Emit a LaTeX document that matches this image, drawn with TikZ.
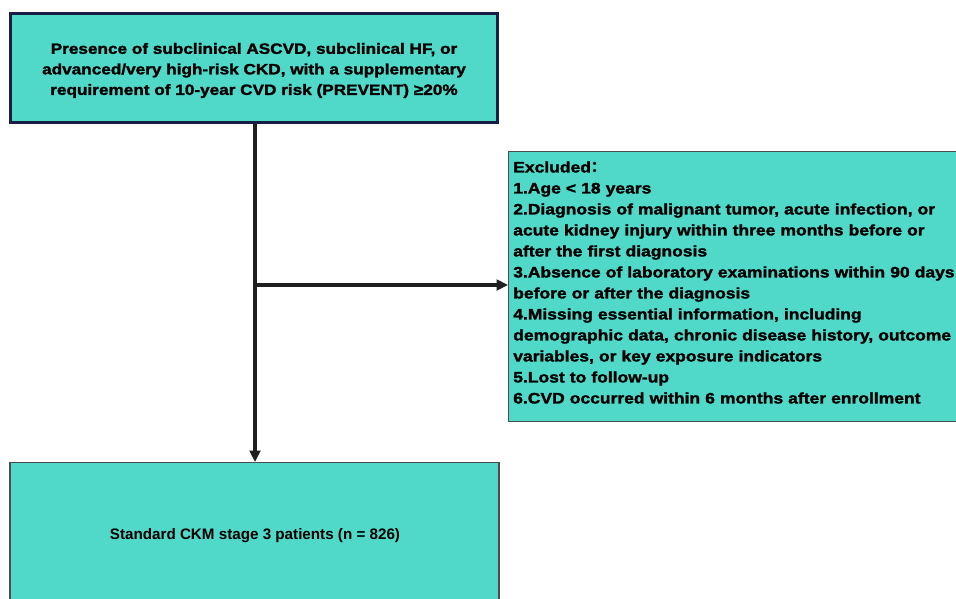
\documentclass[tikz,border=0pt]{standalone}
\usepackage{fontspec}
\setmainfont{Liberation Sans}
\newfontfamily\heavy[FakeStretch=1.15,FakeBold=1.6]{Liberation Sans Bold}
\newfontfamily\cjk{Noto Sans CJK SC}
\usepackage{xcolor}
\usetikzlibrary{arrows.meta}

\definecolor{boxfill}{RGB}{80,216,200}
\definecolor{navyline}{RGB}{24,30,72}

\begin{document}
\begin{tikzpicture}[x=0.75pt,y=0.75pt,font=\bfseries,
  box/.style={draw=black!70,line width=0.8pt,fill=boxfill,inner sep=0pt},
  flow/.style={line width=2.3pt,black!88,-{Triangle[length=8.5pt,width=8pt]}}]
  \useasboundingbox (0,0) rectangle (956,-599);
  \clip (0,0) rectangle (956,-599);
  % boxes
  \node[box,draw=navyline,line width=2.2pt,minimum width=487pt*0.75,minimum height=109pt*0.75] (elig) at (254,-68) {};
  \node[box,anchor=north west,minimum width=470pt*0.75,minimum height=270pt*0.75] (excl) at (508,-151) {};
  \node[box,anchor=north,minimum width=489pt*0.75,minimum height=150pt*0.75] (final) at (254.5,-462) {};
  % texts
  \node[align=center,inner sep=0pt,font=\heavy\fontsize{11.2}{15.4}\selectfont] (eligtxt) at (254,-70.5)
    {Presence of subclinical ASCVD, subclinical HF, or\\
     advanced/very high-risk CKD, with a supplementary\\
     requirement of 10-year CVD risk (PREVENT) ≥20\%};
  \node[anchor=west,inner sep=0pt,text width=460pt*0.75,align=left,
        font=\heavy\fontsize{11.4}{15.75}\selectfont] (excltxt) at ([xshift=5*0.75pt,yshift=4*0.75pt]excl.west)
    {Excluded{\cjk\bfseries ：}\\
     1.Age < 18 years\\
     2.Diagnosis of malignant tumor, acute infection, or\\
     acute kidney injury within three months before or\\
     after the first diagnosis\\
     3.Absence of laboratory examinations within 90 days\\
     before or after the diagnosis\\
     4.Missing essential information, including\\
     demographic data, chronic disease history, outcome\\
     variables, or key exposure indicators\\
     5.Lost to follow-up\\
     6.CVD occurred within 6 months after enrollment};
  \node[font=\bfseries\fontsize{11.4}{13}\selectfont] (finaltxt) at (255,-536) {Standard CKM stage 3 patients (n = 826)};
  % connectors
  \coordinate (split) at (255,-285);
  \draw[flow] (elig.south -| split) -- (final.north -| split);
  \draw[flow] (split) -- (split -| excl.west);
\end{tikzpicture}
\end{document}
